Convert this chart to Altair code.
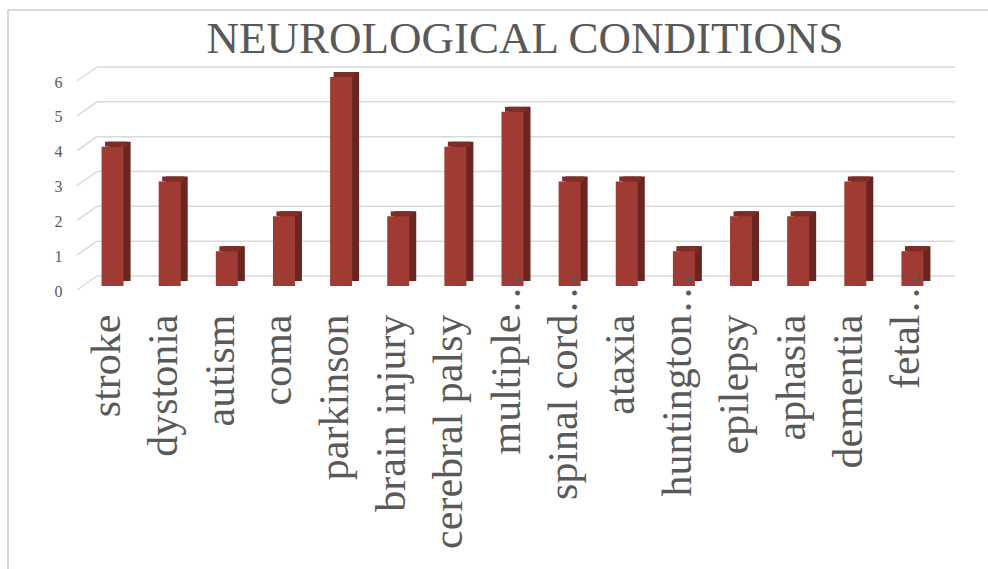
import altair as alt
import pandas as pd

title_text = "NEUROLOGICAL CONDITIONS"
categories = ["stroke", "dystonia", "autism", "coma", "parkinson", "brain injury",
              "cerebral palsy", "multiple…", "spinal cord…", "ataxia", "huntington…",
              "epilepsy", "aphasia", "dementia", "fetal…"]
values = [4, 3, 1, 2, 6, 2, 4, 5, 3, 3, 1, 2, 2, 3, 1]
y_ticks = [0, 1, 2, 3, 4, 5, 6]

FRONT = "#9f3b32"
SIDE = "#6b2520"
TOP = "#7d2c26"
GRID = "#d9d9d9"
TEXT = "#595959"
FONT = "'Liberation Serif', 'DejaVu Serif', serif"

df = pd.DataFrame({"cat": categories, "value": values})
df["ell"] = df["cat"].str.endswith("…")
ticks = pd.DataFrame({"t": y_ticks})

W, H = 857, 209

xscale = alt.Scale(domain=categories, paddingInner=0, paddingOuter=0)
xaxis = alt.Axis(title=None, labelAngle=-90, labelPadding=28, ticks=False,
                 tickSize=0, domain=False, labelFont=FONT, labelFontSize=42,
                 labelColor=TEXT, labelLimit=500, labelOverlap=False,
                 labelFlush=False, labelOffset=-6,
                 labelExpr="replace(datum.label, '…', '')")
xenc = alt.X("cat:N", sort=None, scale=xscale, axis=xaxis)
yscale = alt.Scale(domain=[0, 6], nice=False, zero=True)
yenc = alt.Y("value:Q", scale=yscale, title=None)

# back-wall gridlines
grid_h = alt.Chart(ticks).mark_rule(color=GRID, strokeWidth=1.5, yOffset=-10).encode(
    y=alt.Y("t:Q", scale=yscale, title=None),
    x=alt.value(13), x2=alt.value(871))
grid_s = alt.Chart(ticks).mark_rule(color=GRID, strokeWidth=1.5, yOffset=4, y2Offset=-10).encode(
    y=alt.Y("t:Q", scale=yscale, title=None), y2="t:Q",
    x=alt.value(-7), x2=alt.value(13))

side = alt.Chart(df).mark_bar(width=22, color=SIDE, xOffset=7, yOffset=-5, y2Offset=-5).encode(
    x=xenc, y=yenc)
top = alt.Chart(df).mark_bar(width=22, color=TOP, xOffset=3.5, yOffset=-5).encode(
    x=xenc, y=yenc, y2="value:Q")
front = alt.Chart(df).mark_bar(width=22, color=FRONT).encode(x=xenc, y=yenc)

dots = alt.Chart(df).transform_filter("datum.ell").mark_text(
    text="…", angle=270, align="left", baseline="middle",
    font=FONT, fontSize=42, color=TEXT, yOffset=28, xOffset=-6).encode(
    x=xenc, y=alt.datum(0, scale=yscale))

title = alt.Chart(pd.DataFrame({"t": [title_text]})).mark_text(
    font=FONT, fontSize=45, color=TEXT, align="center", baseline="alphabetic").encode(
    text="t:N", x=alt.value(441), y=alt.value(-24))

border_top = alt.Chart(ticks.head(1)).mark_rule(color=GRID, strokeWidth=2).encode(
    x=alt.value(-76), x2=alt.value(904), y=alt.value(-67))
border_left = alt.Chart(ticks.head(1)).mark_rule(color=GRID, strokeWidth=2).encode(
    x=alt.value(-76), y=alt.value(-67), y2=alt.value(492))

chart = alt.layer(grid_h, grid_s, side, top, front, dots, title, border_top, border_left).properties(
    width=W, height=H,
    autosize=alt.AutoSizeParams(type="none"),
    padding={"left": 84, "top": 77, "right": 47, "bottom": 283},
    background="white",
).configure_view(stroke=None).configure_axisY(
    labelFont=FONT, labelFontSize=16, labelColor=TEXT, labelPadding=22,
    labelOffset=5, domain=False, ticks=False, tickSize=0, grid=False,
    tickCount=7, labelOverlap=False
)

chart.save("out.html", embed_options={"renderer": "svg", "actions": False})
